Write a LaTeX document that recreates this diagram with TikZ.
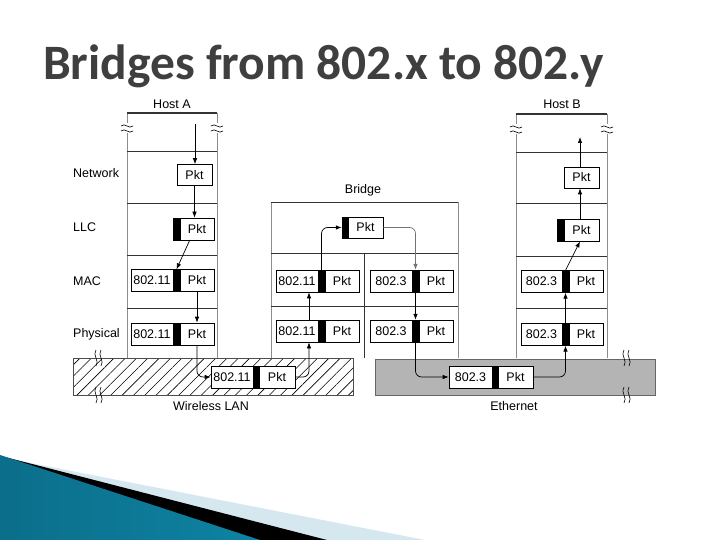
\documentclass[tikz,border=0pt]{standalone}
\usepackage{fontspec}
\setmainfont{Liberation Sans}
\newfontfamily\titlefont{Carlito}
\usetikzlibrary{calc,patterns.meta,arrows.meta}
\definecolor{titlegray}{HTML}{3F3F3F}
\definecolor{tealdark}{HTML}{0B6E8A}
\definecolor{teallight}{HTML}{4FB4D4}
\definecolor{tealmid}{HTML}{0E83A3}
\definecolor{paleblue}{HTML}{D5E8EF}
\definecolor{lanGray}{HTML}{B4B4B4}
\tikzset{
  lbl/.style={font=\fontsize{12.5}{14}\selectfont, inner sep=0pt},
  pbox/.style={draw=black, line width=0.7pt, fill=white, inner sep=0pt, minimum height=22pt, font=\fontsize{12.5}{14}\selectfont},
  pbar/.style={draw=black, fill=black, inner sep=0pt, minimum height=22pt},
  arr/.style={-{Latex[length=6pt,width=4.5pt]}, line width=0.7pt},
  col/.style={draw=black!45, line width=0.9pt},
  divl/.style={draw=black!80, line width=0.6pt},
  brk/.style={draw=black, line width=0.6pt},
}
\begin{document}
\begin{tikzpicture}[x=1pt,y=-1pt]
\useasboundingbox (0,0) rectangle (720,540);
\fill[white] (0,0) rectangle (720,540);

% bottom-left decoration
\fill[paleblue] (15,460) -- (425,540) -- (0,540) -- (0,457) -- cycle;
\fill[black] (5,457) -- (327,540) -- (0,540) -- (0,456) -- cycle;
\shade[left color=tealdark, middle color=teallight, right color=tealmid] (0,455) -- (260,540) -- (0,540) -- cycle;

% title
\node[anchor=base west, inner sep=0pt, text=titlegray, font=\titlefont\bfseries\fontsize{49.5}{52}\selectfont] (title) at (43,79.5) {Bridges from 802.x to 802.y};

% LAN bands
\path[pattern={Lines[angle=45,distance=8pt,line width=0.6pt]}, draw=black!70, line width=0.7pt] (73,358) rectangle (353,395);
\path[fill=lanGray, draw=black!60, line width=0.7pt] (375,359) rectangle (655,395);
\node[lbl] (wlan) at (211,406) {Wireless LAN};
\node[lbl] (eth) at (514,406) {Ethernet};

% Host A column
\draw[col] (127,113) -- (127,358);
\draw[col] (217,113) -- (217,358);
\draw[black!80, line width=1.2pt] (127,113) -- (217,113);
\foreach \yy in {151,203,255,308} \draw[divl] (127,\yy) -- (217,\yy);
\node[lbl] (hosta) at (172,104) {Host A};

% Host B column
\draw[col] (516,114) -- (516,358);
\draw[col] (607,114) -- (607,358);
\draw[black!80, line width=1.2pt] (516,114) -- (607,114);
\foreach \yy in {152,203,256,308} \draw[divl] (516,\yy) -- (607,\yy);
\node[lbl] (hostb) at (562,104) {Host B};

% Bridge column
\draw[col] (271,202) -- (271,358);
\draw[col] (458,202) -- (458,358);
\draw[divl] (271,202) -- (458,202);
\draw[divl] (271,253) -- (458,253);
\draw[divl] (271,306) -- (458,306);
\draw[divl] (364,253) -- (364,358);
\node[lbl] (bridge) at (363,190) {Bridge};

% layer labels
\node[lbl, anchor=west] (lnet) at (73,173) {Network};
\node[lbl, anchor=west] (lllc) at (73,227) {LLC};
\node[lbl, anchor=west] (lmac) at (73,281) {MAC};
\node[lbl, anchor=west] (lphy) at (73,334) {Physical};

% break marks on host columns
\foreach \xx/\yy in {127/128,217/128,516/129,607/129}{
  \fill[white] (\xx-2,\yy-5) rectangle (\xx+2,\yy+5);
  \draw[brk] (\xx-6,\yy-2) .. controls (\xx-2,\yy-6) and (\xx+2,\yy+2) .. (\xx+6,\yy-2);
  \draw[brk] (\xx-6,\yy+3) .. controls (\xx-2,\yy-1) and (\xx+2,\yy+7) .. (\xx+6,\yy+3);
}
% break marks on LAN bands
\foreach \xx/\yy in {99/358,99/395,627/358,627/395}{
  \draw[brk] (\xx-3,\yy-8) .. controls (\xx-7,\yy-3) and (\xx+1,\yy+3) .. (\xx-3,\yy+8);
  \draw[brk] (\xx+2,\yy-8) .. controls (\xx-2,\yy-3) and (\xx+6,\yy+3) .. (\xx+2,\yy+8);
}

% ---------- Host A packets ----------
\node[pbox, minimum width=35pt, minimum height=21pt] (anp) at (194.5,175) {Pkt};
\node[pbar, minimum width=7pt] (alb) at (176.5,229) {};
\node[pbox, minimum width=34pt] (alp) at (197,229) {Pkt};
\node[pbox, minimum width=42pt] (amh) at (152,280.5) {802.11};
\node[pbar, minimum width=7pt] (amb) at (176.5,280.5) {};
\node[pbox, minimum width=34pt] (amp) at (197,280.5) {Pkt};
\node[pbox, minimum width=42pt] (aph) at (152,334) {802.11};
\node[pbar, minimum width=7pt] (apb) at (176.5,334) {};
\node[pbox, minimum width=34pt] (app) at (197,334) {Pkt};
\coordinate (atop) at (195,124);

% ---------- Wireless packet ----------
\node[pbox, minimum width=42pt] (wh) at (232,377) {802.11};
\node[pbar, minimum width=6pt] (wb) at (256,377) {};
\node[pbox, minimum width=36pt] (wp) at (277,377) {Pkt};

% ---------- Bridge packets ----------
\node[pbar, minimum width=6pt, minimum height=21pt] (bcb) at (345,227.5) {};
\node[pbox, minimum width=35pt, minimum height=21pt] (bcp) at (365.5,227.5) {Pkt};
\node[pbox, minimum width=42pt] (blh) at (297,281) {802.11};
\node[pbar, minimum width=7pt] (blb) at (321.5,281) {};
\node[pbox, minimum width=34pt] (blp) at (342,281) {Pkt};
\node[pbox, minimum width=42pt] (bqh) at (297,331) {802.11};
\node[pbar, minimum width=7pt] (bqb) at (321.5,331) {};
\node[pbox, minimum width=34pt] (bqp) at (342,331) {Pkt};
\node[pbox, minimum width=42pt] (brh) at (391,281) {802.3};
\node[pbar, minimum width=7pt] (brb) at (415.5,281) {};
\node[pbox, minimum width=34pt] (brp) at (436,281) {Pkt};
\node[pbox, minimum width=42pt] (bsh) at (391,331) {802.3};
\node[pbar, minimum width=7pt] (bsb) at (415.5,331) {};
\node[pbox, minimum width=34pt] (bsp) at (436,331) {Pkt};

% ---------- Ethernet packet ----------
\node[pbox, minimum width=43pt] (eh) at (470.5,377) {802.3};
\node[pbar, minimum width=6pt] (eb) at (495,377) {};
\node[pbox, minimum width=35pt] (ep) at (515.5,377) {Pkt};

% ---------- Host B packets ----------
\node[pbox, minimum width=35pt, minimum height=21pt] (hnp) at (581.5,177.5) {Pkt};
\node[pbar, minimum width=7pt] (hlb) at (560.5,230) {};
\node[pbox, minimum width=35pt] (hlp) at (581.5,230) {Pkt};
\node[pbox, minimum width=41pt] (hmh) at (541.5,281.5) {802.3};
\node[pbar, minimum width=7pt] (hmb) at (565.5,281.5) {};
\node[pbox, minimum width=34pt] (hmp) at (586,281.5) {Pkt};
\node[pbox, minimum width=41pt] (hph) at (541.5,334.5) {802.3};
\node[pbar, minimum width=7pt] (hpb) at (565.5,334.5) {};
\node[pbox, minimum width=34pt] (hpp) at (586,334.5) {Pkt};
\coordinate (btop) at (580,137);

% ---------- connectors ----------
\draw[arr] (atop) -- (atop |- anp.north);
\draw[arr] (anp.south) -- (anp.south |- alp.north);
\draw[arr] ($(alp.south west)+(10,0)$) -- (amb.north);
\draw[arr] (amp.south) -- (app.north);
\draw[arr, rounded corners=6pt] (app.south) |- (wh.west);
\draw[arr, rounded corners=6pt] (wp.east) -| ($(bqh.south)+(12,0)$);
\draw[arr] ($(bqh.north)+(12,0)$) -- ($(blh.south)+(12,0)$);
\draw[arr, rounded corners=6pt] (blb.north) |- (bcb.west);
\draw[arr, black!55, rounded corners=6pt] (bcp.east) -| (brb.north);
\draw[arr] (brb.south) -- (bsb.north);
\draw[arr, rounded corners=6pt] (bsb.south) |- (eh.west);
\draw[arr, rounded corners=6pt] (ep.east) -| (hpb.south);
\draw[arr] (hpb.north) -- (hmb.south);
\draw[arr] (hmb.north) -- ($(hlp.south)+(-1.5,0)$);
\draw[arr] ($(hlp.north)+(-1.5,0)$) -- ($(hnp.south)+(-1.5,0)$);
\draw[arr] ($(hnp.north)+(-1.5,0)$) -- (btop);
\end{tikzpicture}
\end{document}
